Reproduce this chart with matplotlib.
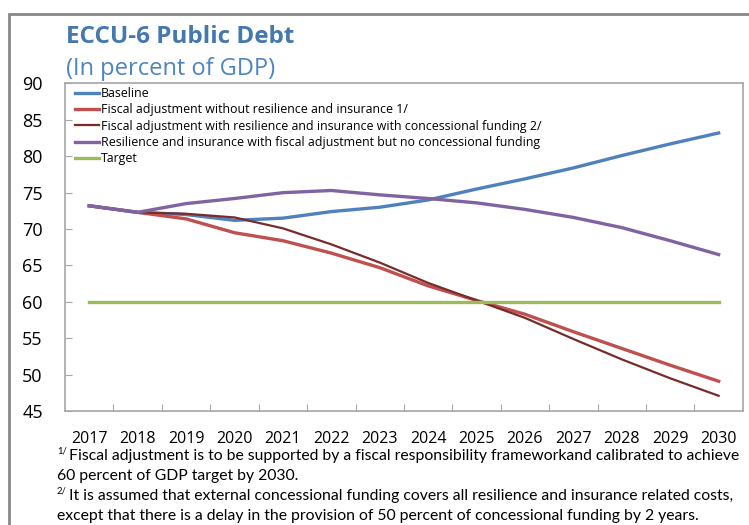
import matplotlib.pyplot as plt
from matplotlib.patches import Rectangle
from matplotlib import font_manager

years = [2017, 2018, 2019, 2020, 2021, 2022, 2023, 2024, 2025, 2026, 2027, 2028, 2029, 2030]

baseline = [73.2, 72.3, 72.0, 71.2, 71.5, 72.4, 73.0, 74.0, 75.5, 76.9, 78.4, 80.1, 81.7, 83.2]
fiscal_no_ri = [73.2, 72.3, 71.4, 69.5, 68.4, 66.7, 64.7, 62.2, 60.2, 58.3, 55.9, 53.6, 51.3, 49.1]
fiscal_ri_conc = [73.2, 72.3, 72.1, 71.6, 70.1, 67.9, 65.4, 62.6, 60.2, 57.8, 54.9, 52.1, 49.5, 47.1]
ri_no_conc = [73.2, 72.3, 73.5, 74.2, 75.0, 75.3, 74.7, 74.2, 73.6, 72.7, 71.6, 70.2, 68.4, 66.5]
target = [60] * len(years)

labels = ["Baseline",
          "Fiscal adjustment without resilience and insurance 1/",
          "Fiscal adjustment with resilience and insurance with concessional funding 2/",
          "Resilience and insurance with fiscal adjustment but no concessional funding",
          "Target"]

names = {f.name for f in font_manager.fontManager.ttflist}
main_font = "Open Sans" if "Open Sans" in names else "DejaVu Sans"
narrow_font = "Liberation Sans Narrow" if "Liberation Sans Narrow" in names else "Lato"
plt.rcParams['font.family'] = [main_font, 'DejaVu Sans']

fig = plt.figure(figsize=(7.49, 5.25), dpi=100)
ax = fig.add_axes([0.0868, 0.217, 0.905, 0.624])

x = list(range(len(years)))
ax.plot(x, baseline, color="#4F81BD", lw=2.4, label=labels[0])
ax.plot(x, fiscal_no_ri, color="#C0504D", lw=2.4, label=labels[1])
ax.plot(x, fiscal_ri_conc, color="#772C2A", lw=1.6, label=labels[2])
ax.plot(x, ri_no_conc, color="#8064A2", lw=2.4, label=labels[3])
ax.plot(x, target, color="#9BBB59", lw=2.4, label=labels[4])

ax.set_xlim(-0.5, len(years) - 0.5)
ax.set_ylim(45, 90)
ax.set_yticks(range(45, 91, 5))
ax.set_xticks([i + 0.5 for i in x[:-1]])
ax.set_xticklabels([])
ax.set_xticks(x, minor=True)
ax.set_xticklabels([str(y) for y in years], minor=True)
ax.tick_params(axis="x", which="major", direction="in", length=5, color="#A6A6A6")
ax.tick_params(axis="x", which="minor", length=0, pad=14, labelsize=11.5)
ax.tick_params(axis="y", direction="in", length=5, color="#A6A6A6", pad=16, labelsize=13)
for s in ax.spines.values():
    s.set_color("#A6A6A6")
    s.set_linewidth(1.2)

ax.legend(loc="upper left", bbox_to_anchor=(0.007, 1.006), frameon=False, fontsize=8.9,
          handlelength=1.9, handletextpad=0.15, labelspacing=0.27, borderpad=0.15,
          borderaxespad=0.3)

fig.text(0.088, 0.918, "ECCU-6 Public Debt", color="#4478AE", fontsize=17.5,
         fontweight="bold", va="baseline")
fig.text(0.088, 0.857, "(In percent of GDP)", color="#4F85BF", fontsize=17,
         va="baseline")

fig.patches.append(Rectangle((9 / 749, -0.1), 1.2, 1 - 14 / 525 + 0.1, transform=fig.transFigure,
                             fill=False, edgecolor="#888888", lw=2))

notes = [
    (0.076, 0.124, "1/", "Fiscal adjustment is to be supported by a fiscal responsibility frameworkand calibrated to achieve"),
    (0.076, 0.086, None, "60 percent of GDP target by 2030."),
    (0.076, 0.047, "2/", "It is assumed that external concessional funding covers all resilience and insurance related costs,"),
    (0.076, 0.010, None, "except that there is a delay in the provision of 50 percent of concessional funding by 2 years."),
]
for xx, yy, sup, txt in notes:
    off = 0.0
    if sup:
        fig.text(xx, yy + 0.013, sup, fontsize=6.8, family=[narrow_font, 'DejaVu Sans'], va="baseline")
        off = 0.016
    fig.text(xx + off, yy, txt, fontsize=11.3, family=[narrow_font, 'DejaVu Sans'], va="baseline")

fig.savefig("out.png", dpi=100)
